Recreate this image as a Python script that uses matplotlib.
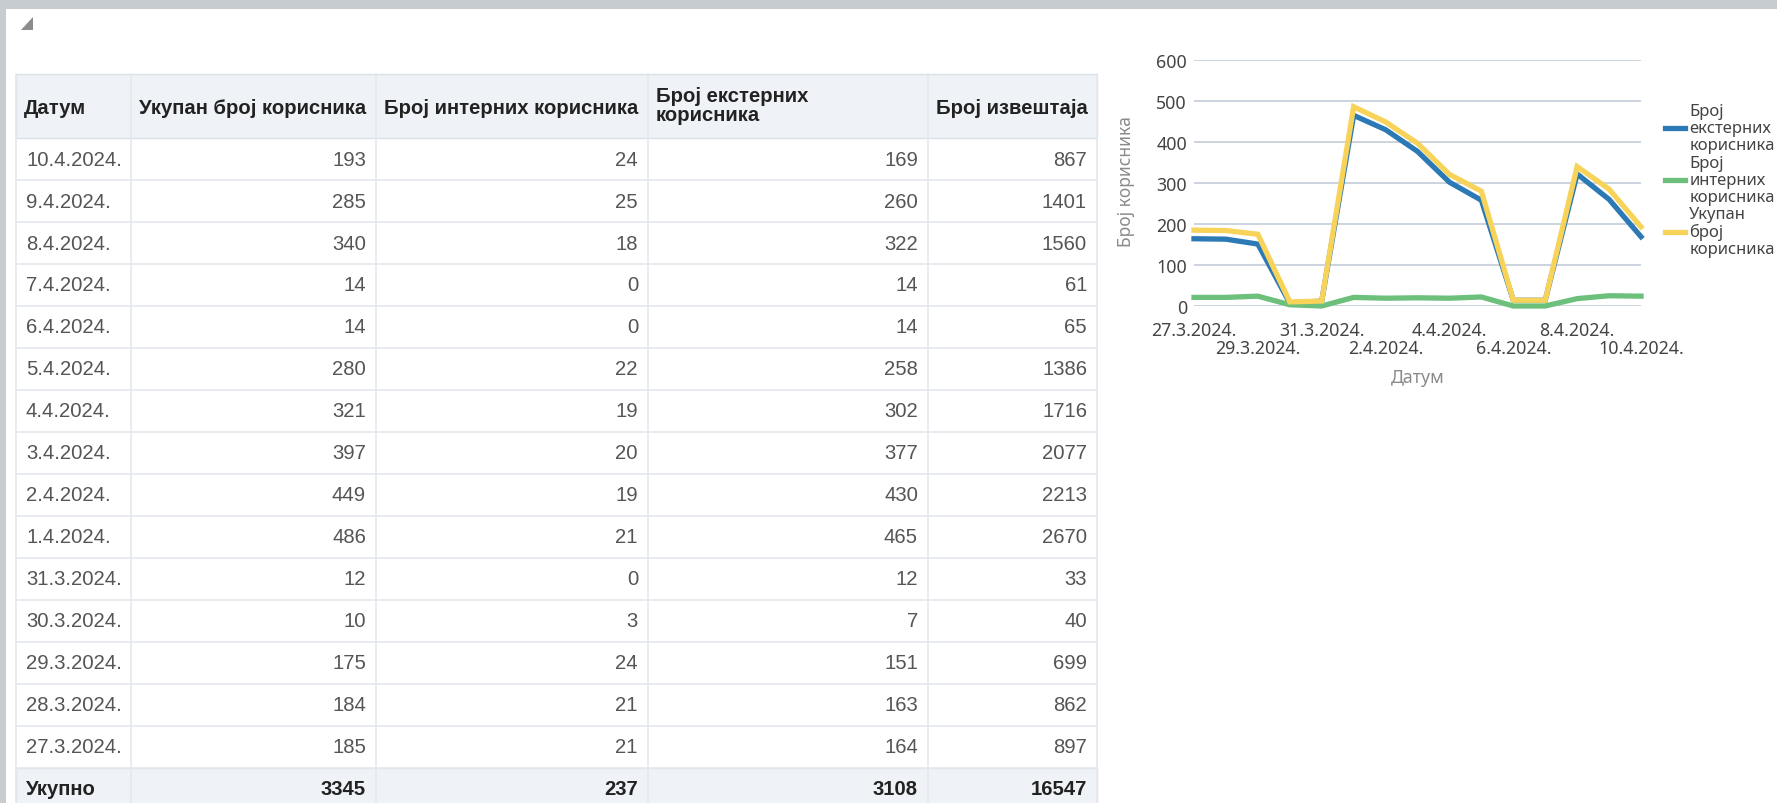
import matplotlib.pyplot as plt
import matplotlib.patches as mpatches

# data for the table (newest first, as in the report)
dates = ['10.4.2024.', '9.4.2024.', '8.4.2024.', '7.4.2024.', '6.4.2024.',
         '5.4.2024.', '4.4.2024.', '3.4.2024.', '2.4.2024.', '1.4.2024.',
         '31.3.2024.', '30.3.2024.', '29.3.2024.', '28.3.2024.', '27.3.2024.']
total_users = [193, 285, 340, 14, 14, 280, 321, 397, 449, 486, 12, 10, 175, 184, 185]
internal_users = [24, 25, 18, 0, 0, 22, 19, 20, 19, 21, 0, 3, 24, 21, 21]
external_users = [169, 260, 322, 14, 14, 258, 302, 377, 430, 465, 12, 7, 151, 163, 164]
reports = [867, 1401, 1560, 61, 65, 1386, 1716, 2077, 2213, 2670, 33, 40, 699, 862, 897]
totals = [3345, 237, 3108, 16547]

headers = ['Датум', 'Укупан број корисника', 'Број интерних корисника',
           'Број екстерних\nкорисника', 'Број извештаја']
total_label = 'Укупно'

series_labels = ['Број\nекстерних\nкорисника', 'Број\nинтерних\nкорисника',
                 'Укупан\nброј\nкорисника']
series_colors = ['#2b79b5', '#6cc07c', '#f8d35a']

W, H = 1777, 804
fig = plt.figure(figsize=(W / 100, H / 100), dpi=100)
fig.patch.set_facecolor('#c7ccd0')

# pixel canvas for the panel and the table
bg = fig.add_axes([0, 0, 1, 1])
bg.set_xlim(0, W)
bg.set_ylim(H, 0)
bg.axis('off')
bg.add_patch(mpatches.Rectangle((6, 10), W - 6, H - 10, color='white', lw=0))
bg.add_patch(mpatches.Polygon([[21, 31], [33, 18], [33, 31]], color='#8c8c8c', lw=0))

tfont = 'Liberation Sans'
fs = 14.6
col_edges = [16, 131, 376, 648, 928, 1097]
head_top, head_h, row_h = 75, 64, 42
line_col = '#e4e9ee'
head_bg = '#eff2f6'

# header
bg.add_patch(mpatches.Rectangle((col_edges[0], head_top), col_edges[-1] - col_edges[0], head_h,
                                facecolor=head_bg, edgecolor='#d9e1e9', lw=1))
for c, h in enumerate(headers):
    x = col_edges[c] + 8
    ha = 'left'
    if c == len(headers) - 1:
        x = col_edges[c + 1] - 9
        ha = 'right'
    yc = head_top + head_h / 2 + 1
    if '\n' in h:
        yc -= 2
    bg.text(x, yc, h, ha=ha, va='center', fontsize=fs,
            fontweight='bold', color='#222222', family=tfont, linespacing=1.02)

# body rows
body_top = head_top + head_h
for r in range(len(dates)):
    y0 = body_top + r * row_h
    yc = y0 + row_h / 2
    bg.text(col_edges[0] + 10, yc, dates[r], ha='left', va='center', fontsize=fs,
            color='#555555', family=tfont)
    vals = [total_users[r], internal_users[r], external_users[r], reports[r]]
    for c, v in enumerate(vals):
        bg.text(col_edges[c + 2] - 10, yc, str(v), ha='right', va='center', fontsize=fs,
                color='#555555', family=tfont)
    bg.plot([col_edges[0], col_edges[-1]], [y0 + row_h, y0 + row_h], color=line_col, lw=1.2)

# total row
tot_top = body_top + len(dates) * row_h
bg.add_patch(mpatches.Rectangle((col_edges[0], tot_top), col_edges[-1] - col_edges[0], 60,
                                facecolor=head_bg, edgecolor='#d9e1e9', lw=1))
bg.text(col_edges[0] + 10, tot_top + 21, total_label, ha='left', va='center', fontsize=fs,
        fontweight='bold', color='#222222', family=tfont)
for c, v in enumerate(totals):
    bg.text(col_edges[c + 2] - 10, tot_top + 21, str(v), ha='right', va='center', fontsize=fs,
            fontweight='bold', color='#222222', family=tfont)

for x in col_edges:
    bg.plot([x, x], [head_top, H], color=line_col, lw=1.2)

# line chart (oldest first)
cfont = 'Noto Sans'
days = list(range(len(dates)))
chart_dates = dates[::-1]
ext = external_users[::-1]
inn = internal_users[::-1]
tot = total_users[::-1]

left, right, top, bottom = 1194, 1641, 61, 307
ax = fig.add_axes([left / W, 1 - bottom / H, (right - left) / W, (bottom - top) / H])
ax.set_xlim(0, len(days) - 1)
ax.set_ylim(0, 600)
ax.set_yticks(range(0, 601, 100))
ax.set_xticks([])
ax.grid(axis='y', color='#cbd4de', lw=1.4)
ax.set_axisbelow(True)
for s in ax.spines.values():
    s.set_visible(False)
ax.tick_params(axis='y', length=0, pad=5, labelsize=12.8, labelcolor='#444444')
for t in ax.get_yticklabels():
    t.set_family(cfont)

for ys, lab, col in zip([ext, inn, tot], series_labels, series_colors):
    ax.plot(days, ys, color=col, lw=3.8, label=lab, clip_on=False, solid_joinstyle='miter')

# staggered date labels, every second day
for k, i in enumerate(days[::2]):
    off = -17.5 if k % 2 == 0 else -30.5
    ax.annotate(chart_dates[i], xy=(i, 0), xycoords=('data', 'axes fraction'),
                xytext=(0, off), textcoords='offset points', ha='center', va='center',
                fontsize=12.8, color='#444444', family=cfont)

fig.text(1126 / W, 1 - 182 / H, 'Број корисника', rotation=90, ha='center', va='center',
         fontsize=12.5, color='#8a8a8a', family=cfont)
fig.text((left + right) / 2 / W, 1 - 378 / H, 'Датум', ha='center', va='center',
         fontsize=12.8, color='#8a8a8a', family=cfont)

leg = fig.legend(loc='upper left', bbox_to_anchor=(1665 / W, 1 - 104 / H), frameon=False,
                 borderpad=0, borderaxespad=0, handlelength=1.2, handletextpad=0.25,
                 labelspacing=0.1, prop={'family': cfont, 'size': 12}, labelcolor='#444444')
for t in leg.get_texts():
    t.set_linespacing(1.08)

fig.savefig('out.png', dpi=100, facecolor=fig.get_facecolor())
